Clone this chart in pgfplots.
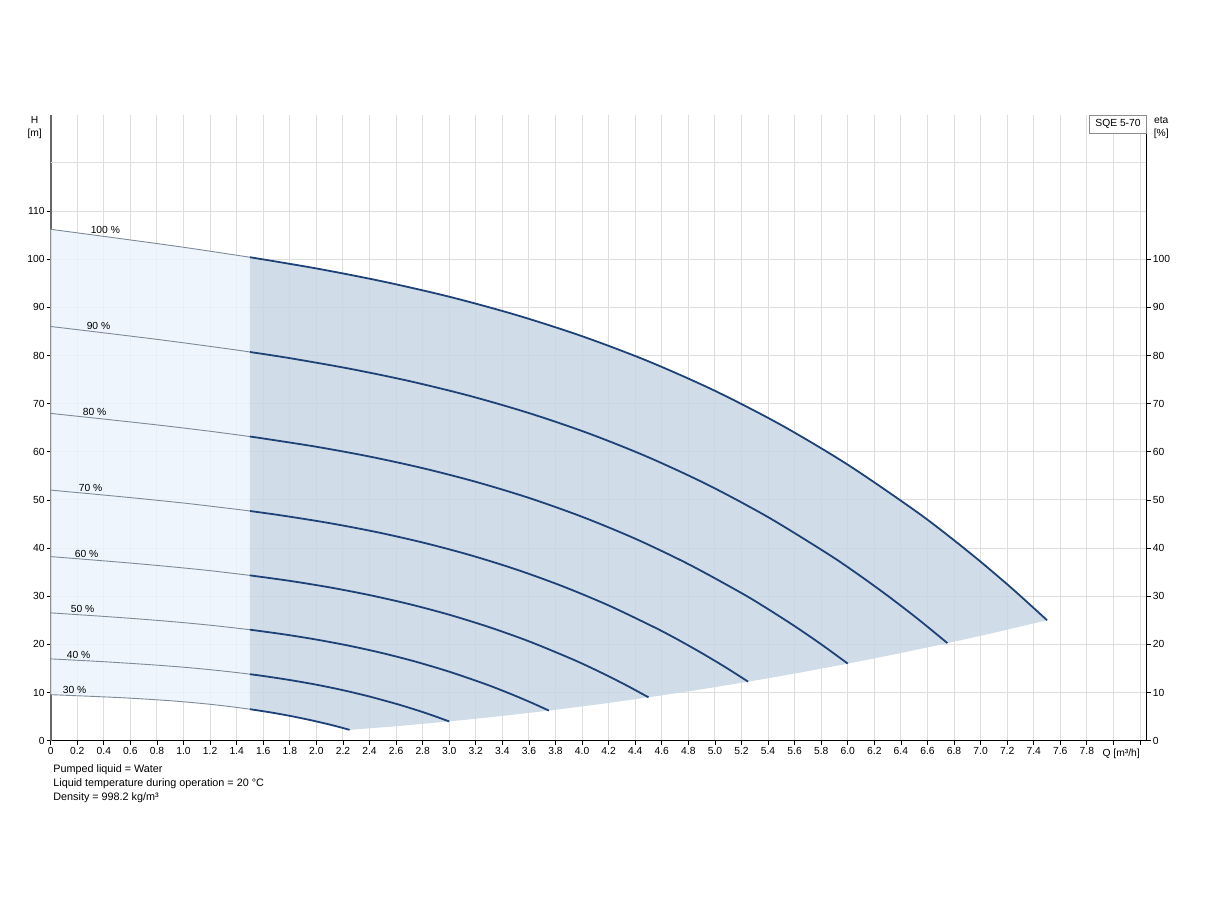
\documentclass[border=0pt]{standalone}
\usepackage{fontspec}
\setmainfont{Liberation Sans}
\usepackage{pgfplots}
\pgfplotsset{compat=1.18}

\definecolor{gridc}{RGB}{222,222,222}
\definecolor{lightreg}{RGB}{235,243,251}
\definecolor{darkreg}{RGB}{200,214,228}
\definecolor{curvec}{RGB}{30,66,118}
\definecolor{thinc}{RGB}{125,138,152}

\begin{document}
\begin{tikzpicture}[font=\fontsize{10}{12}\selectfont]
\path[use as bounding box] (-50.7pt,-159.3pt) rectangle (1173.3pt,740.7pt);
\begin{axis}[name=main,
  at={(0,0)}, anchor=south west,
  scale only axis, width=1096pt, height=626pt,
  xmin=0, xmax=8.25, ymin=0, ymax=130,
  axis x line*=bottom, axis y line*=left,
  x axis line style={black, line width=1.2pt, -},
  y axis line style={black!60, line width=2pt, -},
  xtick={0,0.2,0.4,0.6,0.8,1.0,1.2,1.4,1.6,1.8,2.0,2.2,2.4,2.6,2.8,3.0,3.2,3.4,3.6,3.8,4.0,4.2,4.4,4.6,4.8,5.0,5.2,5.4,5.6,5.8,6.0,6.2,6.4,6.6,6.8,7.0,7.2,7.4,7.6,7.8,8.0,8.2},
  xticklabels={0,0.2,0.4,0.6,0.8,1.0,1.2,1.4,1.6,1.8,2.0,2.2,2.4,2.6,2.8,3.0,3.2,3.4,3.6,3.8,4.0,4.2,4.4,4.6,4.8,5.0,5.2,5.4,5.6,5.8,6.0,6.2,6.4,6.6,6.8,7.0,7.2,7.4,7.6,7.8,{},{}},
  ytick={0,10,...,110},
  extra y ticks={120},
  extra y tick labels={},
  extra y tick style={grid=major, major tick length=0pt},
  tick align=outside, major tick length=4pt,
  tick style={black, line width=0.8pt},
  grid=major, major grid style={gridc, line width=1pt},
  /pgf/number format/assume math mode=true,
  ticklabel style={font=\fontsize{10.3}{12}\selectfont},
  xticklabel style={inner sep=2pt, text height=7.5pt, text depth=0pt},
  yticklabel style={inner sep=2pt},
]
% shaded regions
\addplot[draw=none, fill=lightreg, fill opacity=0.85] coordinates {
(0,106.2)(0.5,104.36)(1.0,102.47)(1.5,100.40)(1.5,6.54)(1.35,7.09)(1.2,7.56)(1.05,7.96)
(0.9,8.30)(0.75,8.58)(0.6,8.83)(0.45,9.04)(0.3,9.22)(0.15,9.39)(0,9.56)} -- cycle;
\addplot[draw=none, fill=darkreg, fill opacity=0.85] coordinates {
(1.5,100.40)(2.0,98.07)(2.5,95.37)(3.0,92.20)(3.5,88.44)(4.0,84.00)(4.5,78.78)(5.0,72.66)
(5.5,65.54)(6.0,57.32)(6.5,47.90)(6.75,42.71)(7.0,37.17)(7.25,31.28)(7.5,25.02)
(7.125,22.56)(6.75,20.25)(6.375,18.06)(6.0,16.0)(5.625,14.06)(5.25,12.25)(4.875,10.56)
(4.5,9.0)(4.125,7.56)(3.75,6.25)(3.375,5.06)(3.0,4.0)(2.625,3.06)(2.25,2.25)
(2.175,2.82)(2.1,3.35)(2.025,3.84)(1.95,4.31)(1.8,5.16)(1.65,5.90)(1.5,6.54)} -- cycle;

% 100 %
\addplot[thinc, line width=0.9pt, smooth] coordinates {(0,106.2)(0.5,104.36)(1.0,102.47)(1.5,100.40)};
\addplot[curvec, line width=1.8pt, smooth] coordinates {(1.5,100.40)(2.0,98.07)(2.5,95.37)(3.0,92.20)(3.5,88.44)(4.0,84.00)(4.5,78.78)(5.0,72.66)(5.5,65.54)(6.0,57.32)(6.5,47.90)(6.75,42.71)(7.0,37.17)(7.25,31.28)(7.5,25.02)};
% 90 %
\addplot[thinc, line width=0.9pt, smooth] coordinates {(0,86.02)(0.45,84.53)(0.9,82.99)(1.35,81.32)(1.5,80.72)};
\addplot[curvec, line width=1.8pt, smooth] coordinates {(1.5,80.72)(1.8,79.44)(2.25,77.25)(2.7,74.68)(3.15,71.64)(3.6,68.04)(4.05,63.81)(4.5,58.85)(4.95,53.09)(5.4,46.43)(5.85,38.80)(6.075,34.60)(6.3,30.11)(6.525,25.34)(6.75,20.27)};
% 80 %
\addplot[thinc, line width=0.9pt, smooth] coordinates {(0,67.97)(0.4,66.79)(0.8,65.58)(1.2,64.26)(1.5,63.16)};
\addplot[curvec, line width=1.8pt, smooth] coordinates {(1.5,63.16)(1.6,62.76)(2.0,61.04)(2.4,59.01)(2.8,56.60)(3.2,53.76)(3.6,50.42)(4.0,46.50)(4.4,41.95)(4.8,36.68)(5.2,30.66)(5.4,27.33)(5.6,23.79)(5.8,20.02)(6.0,16.01)};
% 70 %
\addplot[thinc, line width=0.9pt, smooth] coordinates {(0,52.04)(0.35,51.14)(0.7,50.21)(1.05,49.20)(1.4,48.05)(1.5,47.70)};
\addplot[curvec, line width=1.8pt, smooth] coordinates {(1.5,47.70)(1.75,46.73)(2.1,45.18)(2.45,43.34)(2.8,41.16)(3.15,38.60)(3.5,35.60)(3.85,32.11)(4.2,28.09)(4.55,23.47)(4.725,20.93)(4.9,18.21)(5.075,15.33)(5.25,12.26)};
% 60 %
\addplot[thinc, line width=0.9pt, smooth] coordinates {(0,38.23)(0.3,37.57)(0.6,36.89)(0.9,36.14)(1.2,35.31)(1.5,34.33)};
\addplot[curvec, line width=1.8pt, smooth] coordinates {(1.5,34.33)(1.8,33.19)(2.1,31.84)(2.4,30.24)(2.7,28.36)(3.0,26.16)(3.3,23.59)(3.6,20.64)(3.9,17.24)(4.05,15.38)(4.2,13.38)(4.35,11.26)(4.5,9.01)};
% 50 %
\addplot[thinc, line width=0.9pt, smooth] coordinates {(0,26.55)(0.25,26.09)(0.5,25.62)(0.75,25.10)(1.0,24.52)(1.25,23.84)(1.5,23.05)};
\addplot[curvec, line width=1.8pt, smooth] coordinates {(1.5,23.05)(1.75,22.11)(2.0,21.00)(2.25,19.70)(2.5,18.17)(2.75,16.39)(3.0,14.33)(3.25,11.98)(3.375,10.68)(3.5,9.29)(3.625,7.82)(3.75,6.26)};
% 40 %
\addplot[thinc, line width=0.9pt, smooth] coordinates {(0,16.99)(0.2,16.70)(0.4,16.40)(0.6,16.06)(0.8,15.69)(1.0,15.26)(1.2,14.75)(1.4,14.15)(1.5,13.81)};
\addplot[curvec, line width=1.8pt, smooth] coordinates {(1.5,13.81)(1.6,13.44)(1.8,12.60)(2.0,11.63)(2.2,10.49)(2.4,9.17)(2.6,7.66)(2.7,6.83)(2.8,5.95)(2.9,5.00)(3.0,4.00)};
% 30 %
\addplot[thinc, line width=0.9pt, smooth] coordinates {(0,9.56)(0.15,9.39)(0.3,9.22)(0.45,9.04)(0.6,8.83)(0.75,8.58)(0.9,8.30)(1.05,7.96)(1.2,7.56)(1.35,7.09)(1.5,6.54)};
\addplot[curvec, line width=1.8pt, smooth] coordinates {(1.5,6.54)(1.65,5.90)(1.8,5.16)(1.95,4.31)(2.025,3.84)(2.1,3.35)(2.175,2.82)(2.25,2.25)};

% speed labels
\begin{scope}[every node/.style={anchor=base west, inner sep=0pt, font=\fontsize{10.3}{12}\selectfont}]
\node at (axis cs:0.30,105.4) {100 \%};
\node at (axis cs:0.27,85.4) {90 \%};
\node at (axis cs:0.24,67.6) {80 \%};
\node at (axis cs:0.21,51.8) {70 \%};
\node at (axis cs:0.18,38.1) {60 \%};
\node at (axis cs:0.15,26.6) {50 \%};
\node at (axis cs:0.12,17.1) {40 \%};
\node at (axis cs:0.09,9.8) {30 \%};
\end{scope}
\end{axis}

\begin{axis}[
  at={(0,0)}, anchor=south west,
  scale only axis, width=1096pt, height=626pt,
  xmin=0, xmax=8.25, ymin=0, ymax=130,
  axis x line=none, axis y line*=right,
  y axis line style={black, line width=1.2pt, -},
  ytick={0,10,...,100},
  tick align=outside, major tick length=4pt,
  tick style={black, line width=0.8pt},
  /pgf/number format/assume math mode=true,
  ticklabel style={font=\fontsize{10.3}{12}\selectfont},
  yticklabel style={inner sep=2pt},
]
\addplot[draw=none] coordinates {(0,0)};
\end{axis}

\node[anchor=north, align=center, inner sep=0pt, font=\fontsize{10.3}{13}\selectfont] at (-16pt,624pt) {H\\{[m]}};
\node[anchor=north, align=center, inner sep=0pt, font=\fontsize{10.3}{13}\selectfont] at (1110.5pt,624pt) {eta\\{[\%]}};
\node[anchor=north east, draw=black!45, fill=white, minimum width=57pt, minimum height=18pt, inner sep=0pt, font=\fontsize{10.3}{12}\selectfont] at (1096pt,626pt) {SQE 5-70};
\node[anchor=base, inner sep=0pt, font=\fontsize{10.3}{12}\selectfont] at (1070.5pt,-15.3pt) {Q [m³/h]};
\node[anchor=north west, align=left, inner sep=0pt, font=\fontsize{10.8}{14}\selectfont] at (2.5pt,-23.5pt) {Pumped liquid = Water\\Liquid temperature during operation = 20 °C\\Density = 998.2 kg/m³};
\end{tikzpicture}
\end{document}
